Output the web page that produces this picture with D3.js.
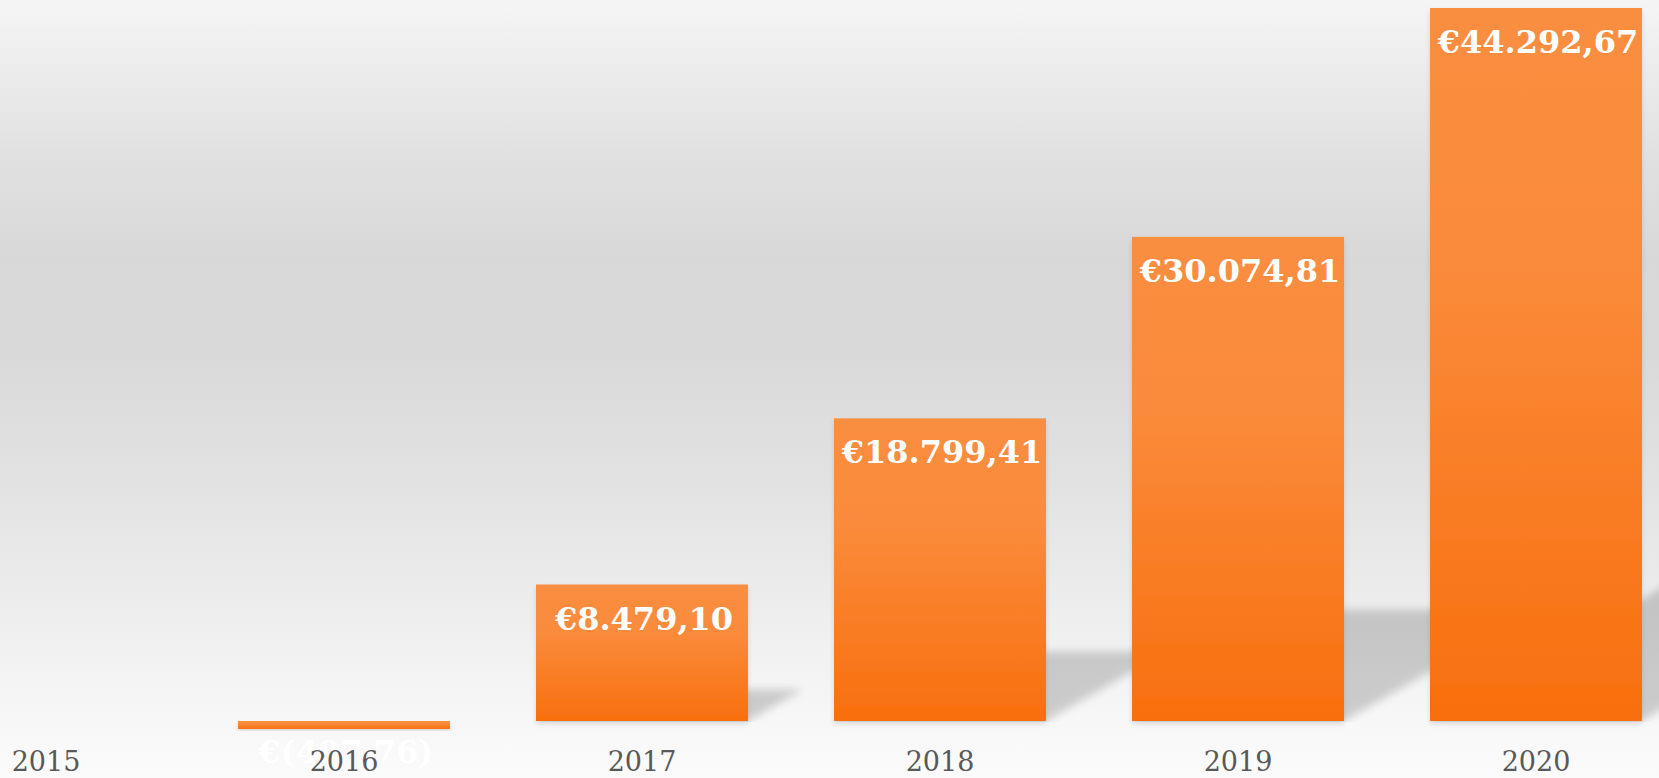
<!DOCTYPE html>
<html>
<head>
<meta charset="utf-8">
<script src="https://cdn.jsdelivr.net/npm/d3@7"></script>
<style>
  html, body { margin: 0; padding: 0; background: #fafafa; overflow: hidden; }
  svg { display: block; }
</style>
</head>
<body>
<svg id="chart"></svg>
<script>
// ---- data ----
const years  = ["2015", "2016", "2017", "2018", "2019", "2020"];
const values = [null, -497.76, 8479.10, 18799.41, 30074.81, 44292.67];

// ---- layout ----
const W = 1659, H = 778;
const baseY = 721, topY = 8;

const svg = d3.select("#chart").attr("width", W).attr("height", H);
const defs = svg.append("defs");

// background gradient
const bg = defs.append("linearGradient").attr("id", "bg")
  .attr("x1", 0).attr("y1", 0).attr("x2", 0).attr("y2", 1);
[[0, "#f5f5f5"], [0.06, "#efefef"], [0.2, "#e1e1e1"], [0.33, "#d8d8d8"], [0.45, "#d9d9d9"],
 [0.6, "#e1e1e1"], [0.75, "#ebebeb"], [0.88, "#f4f4f4"], [0.94, "#f8f8f8"], [1, "#fbfbfb"]]
  .forEach(([o, c]) => bg.append("stop").attr("offset", o).attr("stop-color", c));

// bar gradient
const bar = defs.append("linearGradient").attr("id", "barGrad")
  .attr("x1", 0).attr("y1", 0).attr("x2", 0).attr("y2", 1);
[[0, "#fa8e40"], [0.35, "#fa8b3b"], [1, "#f86f0e"]]
  .forEach(([o, c]) => bar.append("stop").attr("offset", o).attr("stop-color", c));

// blur for cast shadows
defs.append("filter").attr("id", "blur")
  .attr("x", "-20%").attr("y", "-20%").attr("width", "140%").attr("height", "140%")
  .append("feGaussianBlur").attr("stdDeviation", 4);

const drop = defs.append("filter").attr("id", "drop")
  .attr("x", "-10%").attr("y", "-10%").attr("width", "120%").attr("height", "130%");
drop.append("feDropShadow").attr("dx", 0).attr("dy", 3).attr("stdDeviation", 2.5)
  .attr("flood-color", "#000").attr("flood-opacity", 0.12);

svg.append("rect").attr("width", W).attr("height", H).attr("fill", "url(#bg)");

// ---- scales ----
const x = d3.scaleBand().domain(years).range([-103, 1685])
  .paddingInner(0.2886).paddingOuter(0.1443);
const y = d3.scaleLinear().domain([0, d3.max(values)]).range([baseY, topY]);

const data = years.map((yr, i) => ({ year: yr, value: values[i] }))
  .filter(d => d.value !== null);

// ---- cast shadows ----
const clip = defs.append("clipPath").attr("id", "shClip");
clip.append("rect").attr("x", 0).attr("y", 0).attr("width", W).attr("height", baseY + 1);

svg.append("g").attr("clip-path", "url(#shClip)")
  .selectAll("path").data(data.filter(d => d.value > 0)).join("path")
  .attr("d", d => {
    const h = y(0) - y(d.value);
    const dx = 0.4 * h, dy = 0.23 * h;
    const x0 = x(d.year), x1 = x(d.year) + x.bandwidth();
    return `M${x0},${y(0)}L${x1},${y(0)}L${x1 + dx},${y(0) - dy}L${x0 + dx},${y(0) - dy}Z`;
  })
  .attr("fill", "#000").attr("opacity", 0.17).attr("filter", "url(#blur)");

// ---- bars ----
svg.append("g").selectAll("rect").data(data).join("rect")
  .attr("x", d => x(d.year))
  .attr("y", d => y(Math.max(0, d.value)))
  .attr("width", x.bandwidth())
  .attr("height", d => Math.abs(y(d.value) - y(0)))
  .attr("fill", "url(#barGrad)")
  .attr("filter", "url(#drop)");

// ---- value labels ----
const fmt = d3.format(",.2f");
const euro = v => {
  const s = fmt(Math.abs(v)).replace(/,/g, "#").replace(/\./g, ",").replace(/#/g, ".");
  return v < 0 ? "€(" + s + ")" : "€" + s;
};

svg.append("g").selectAll("text").data(data).join("text")
  .attr("x", d => x(d.year) + x.bandwidth() / 2 + 2)
  .attr("y", d => d.value >= 0 ? y(d.value) + 45 : y(d.value) + 34)
  .attr("text-anchor", "middle")
  .attr("font-family", "'DejaVu Serif', Georgia, serif")
  .attr("font-weight", "bold")
  .attr("font-size", 32)
  .attr("fill", "#ffffff")
  .text(d => euro(d.value));

// ---- x axis (drawn over the 2016 value label, as in the reference) ----
const axis = svg.append("g").attr("transform", `translate(0,${baseY})`)
  .call(d3.axisBottom(x).tickSize(0).tickPadding(50));
axis.select(".domain").remove();
axis.selectAll("text")
  .attr("font-family", "'DejaVu Serif', Georgia, serif")
  .attr("font-size", 27)
  .attr("fill", "#595959")
  .attr("dy", 0);
</script>
</body>
</html>
